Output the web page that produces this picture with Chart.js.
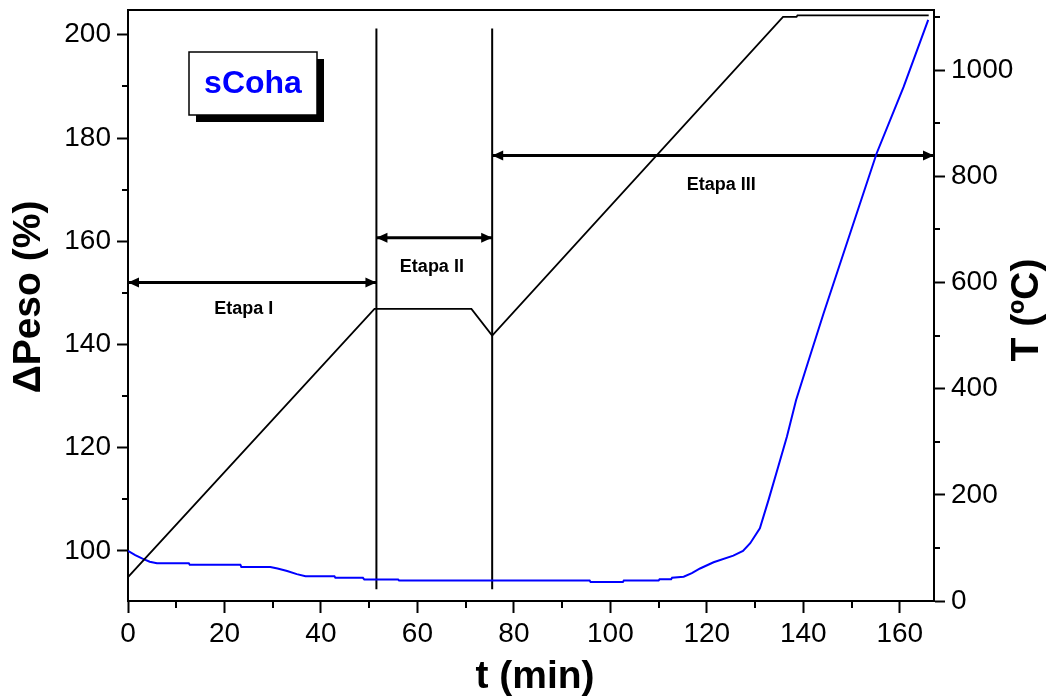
<!DOCTYPE html>
<html>
<head>
<meta charset="utf-8">
<script src="https://cdn.jsdelivr.net/npm/chart.js@4/dist/chart.umd.min.js"></script>
<style>
  html, body { margin: 0; padding: 0; background: #fff; }
  #wrap { width: 1052px; height: 699px; }
</style>
</head>
<body>
<div id="wrap"><canvas id="c" width="1052" height="699"></canvas></div>
<script>
// Furnace temperature programme (min, ºC)
const timeT = [0, 51.1, 71.2, 75.5, 135.8, 138.6, 138.8, 166.0];
const tempC = [45, 550, 550, 500, 1100, 1100, 1103, 1103];

// Sample weight change (min, %)
const timeW = [0, 1.5, 3, 4.5, 6, 12.6, 12.8, 23.3, 23.5, 29.5, 31, 33, 35, 36.8, 42.8, 43,
  48.7, 49, 56, 56.2, 95.7, 95.9, 102.6, 102.8, 110, 110.2, 112.6, 112.8, 115.2, 116.9,
  118.6, 121.4, 125.5, 127.5, 129, 131, 132.8, 134.8, 136.6, 138.5, 141, 144.2,
  149.7, 155.2, 160.8, 165.9];
const weightPct = [100, 99.2, 98.5, 97.9, 97.6, 97.6, 97.3, 97.3, 96.9, 96.9, 96.6, 96.1, 95.5, 95.1, 95.1, 94.8,
  94.8, 94.45, 94.45, 94.26, 94.26, 93.96, 93.96, 94.26, 94.26, 94.5, 94.5, 94.8, 95.0, 95.7,
  96.6, 97.8, 99.1, 100.0, 101.5, 104.4, 109.9, 116.3, 122.1, 129.2, 136.6, 146.0,
  161.5, 177.0, 189.9, 202.9];

// Stage boundaries (min) and annotations
const stageBounds = [0, 51.5, 75.5, 167.1];
const stageNames = ['Etapa I', 'Etapa II', 'Etapa III'];
const stageArrowLevel = [152, 160.7, 176.6];   // % axis
const stageLabelT = [24, 63, 123];              // min
const stageLabelLevel = [146.9, 155, 170.9];    // % axis
const markerRange = [92.6, 201.2];              // % axis

// Axis ranges and tick steps
const xRange = [0, 167.1], xStep = 20;
const wRange = [90.3, 204.8], wStep = 20;
const tRange = [0, 1113], tStep = 200;

const sampleName = 'sCoha';
const xTitle = 't (min)';
const wTitle = '\u0394Peso (%)';
const tTitle = 'T (\u00baC)';

const FONT = '"Liberation Sans", Arial, sans-serif';

const pts = (xs, ys) => xs.map((x, i) => ({ x, y: ys[i] }));

const datasets = [
  { data: pts(timeT, tempC), yAxisID: 'yT', borderColor: '#000', borderWidth: 1.8 },
  { data: pts(timeW, weightPct), yAxisID: 'yW', borderColor: '#0000ff', borderWidth: 2 }
];
// stage separator lines
[stageBounds[1], stageBounds[2]].forEach(t => datasets.push({
  data: [{ x: t, y: markerRange[0] }, { x: t, y: markerRange[1] }],
  yAxisID: 'yW', borderColor: '#000', borderWidth: 2, clip: false, role: 'marker'
}));
// stage arrows
stageNames.forEach((n, i) => datasets.push({
  data: [{ x: stageBounds[i], y: stageArrowLevel[i] }, { x: stageBounds[i + 1], y: stageArrowLevel[i] }],
  yAxisID: 'yW', borderColor: '#000', borderWidth: 3, clip: false, role: 'arrow'
}));

function minorTicks(chart) {
  const ctx = chart.ctx;
  const { x, yW, yT } = chart.scales;
  ctx.save();
  ctx.strokeStyle = '#000';
  ctx.lineWidth = 2;
  ctx.beginPath();
  for (let v = xRange[0] + xStep / 2; v < xRange[1]; v += xStep) {
    const px = Math.round(x.getPixelForValue(v));
    ctx.moveTo(px, x.top); ctx.lineTo(px, x.top + 7);
  }
  for (let v = 90; v < wRange[1]; v += wStep) {
    if (v < wRange[0]) continue;
    const py = Math.round(yW.getPixelForValue(v));
    ctx.moveTo(yW.right, py); ctx.lineTo(yW.right - 6, py);
  }
  for (let v = tStep / 2; v < tRange[1]; v += tStep) {
    const py = Math.round(yT.getPixelForValue(v));
    ctx.moveTo(yT.left, py); ctx.lineTo(yT.left + 6, py);
  }
  ctx.stroke();
  ctx.restore();
}

const decor = {
  id: 'decor',
  afterDatasetsDraw(chart) {
    const ctx = chart.ctx;
    const area = chart.chartArea;
    const { x, yW } = chart.scales;

    // top frame line
    ctx.save();
    ctx.strokeStyle = '#000';
    ctx.lineWidth = 2;
    ctx.beginPath();
    ctx.moveTo(area.left - 1, area.top);
    ctx.lineTo(area.right + 1, area.top);
    ctx.stroke();
    ctx.restore();

    minorTicks(chart);

    // arrowheads on the stage arrows
    ctx.save();
    ctx.fillStyle = '#000';
    chart.data.datasets.forEach((ds, i) => {
      if (ds.role !== 'arrow') return;
      const m = chart.getDatasetMeta(i).data;
      const a = m[0], b = m[m.length - 1];
      [[a, -1], [b, 1]].forEach(([p, dir]) => {
        ctx.beginPath();
        ctx.moveTo(p.x, p.y);
        ctx.lineTo(p.x - dir * 11, p.y - 5);
        ctx.lineTo(p.x - dir * 11, p.y + 5);
        ctx.closePath();
        ctx.fill();
      });
    });
    ctx.restore();

    // stage labels
    ctx.save();
    ctx.fillStyle = '#000';
    ctx.font = 'bold 18px ' + FONT;
    ctx.textAlign = 'center';
    ctx.textBaseline = 'middle';
    stageNames.forEach((n, i) => {
      ctx.fillText(n, x.getPixelForValue(stageLabelT[i]), yW.getPixelForValue(stageLabelLevel[i]));
    });
    ctx.restore();

    // sample name box with drop shadow
    ctx.save();
    const bx = 189, by = 52, bw = 128, bh = 63, off = 7;
    ctx.fillStyle = '#000';
    ctx.fillRect(bx + off, by + off, bw, bh);
    ctx.fillStyle = '#fff';
    ctx.fillRect(bx, by, bw, bh);
    ctx.strokeStyle = '#000';
    ctx.lineWidth = 1.5;
    ctx.strokeRect(bx, by, bw, bh);
    ctx.fillStyle = '#0000ff';
    ctx.font = 'bold 32px ' + FONT;
    ctx.textAlign = 'center';
    ctx.textBaseline = 'middle';
    ctx.fillText(sampleName, bx + bw / 2, by + bh / 2 + 1);
    ctx.restore();

    // axis titles
    ctx.save();
    ctx.fillStyle = '#000';
    ctx.font = 'bold 39px ' + FONT;
    ctx.textAlign = 'center';
    ctx.textBaseline = 'middle';
    ctx.fillText(xTitle, 535, 677);
    ctx.translate(29, 297);
    ctx.rotate(-Math.PI / 2);
    ctx.fillText(wTitle, 0, 0);
    ctx.restore();
    ctx.save();
    ctx.fillStyle = '#000';
    ctx.font = 'bold 39px ' + FONT;
    ctx.textAlign = 'center';
    ctx.textBaseline = 'middle';
    ctx.translate(1027, 310);
    ctx.rotate(-Math.PI / 2);
    ctx.fillText(tTitle, 0, 0);
    ctx.restore();
  }
};

const tickFont = { family: FONT, size: 28 };
const plainLabel = v => String(v);
const axisCommon = {
  grid: { drawOnChartArea: false, drawTicks: true, color: '#000', tickWidth: 2 },
  border: { display: true, color: '#000', width: 2 }
};

new Chart(document.getElementById('c'), {
  type: 'line',
  data: { datasets },
  plugins: [decor],
  options: {
    responsive: false,
    animation: false,
    devicePixelRatio: 1,
    layout: { padding: { top: 10, left: 0, right: 0, bottom: 0 } },
    elements: { point: { radius: 0 }, line: { tension: 0 } },
    plugins: { legend: { display: false }, tooltip: { enabled: false } },
    scales: {
      x: {
        type: 'linear', position: 'bottom', min: xRange[0], max: xRange[1],
        ticks: { stepSize: xStep, includeBounds: false, font: tickFont, color: '#000', padding: 4, maxRotation: 0, autoSkip: false, callback: plainLabel },
        grid: { ...axisCommon.grid, tickLength: 12 },
        border: axisCommon.border,
        afterFit(s) { s.height = 98; s.paddingLeft = 0; s.paddingRight = 0; }
      },
      yW: {
        type: 'linear', position: 'left', min: wRange[0], max: wRange[1],
        ticks: { stepSize: wStep, includeBounds: false, font: tickFont, color: '#000', padding: 6, callback: plainLabel },
        grid: { ...axisCommon.grid, tickLength: 11 },
        border: axisCommon.border,
        afterFit(s) { s.width = 128; s.paddingTop = 0; s.paddingBottom = 0; }
      },
      yT: {
        type: 'linear', position: 'right', min: tRange[0], max: tRange[1],
        ticks: { stepSize: tStep, includeBounds: false, font: tickFont, color: '#000', padding: 6, callback: plainLabel },
        grid: { ...axisCommon.grid, tickLength: 11 },
        border: axisCommon.border,
        afterFit(s) { s.width = 118; s.paddingTop = 0; s.paddingBottom = 0; }
      }
    }
  }
});
</script>
</body>
</html>
